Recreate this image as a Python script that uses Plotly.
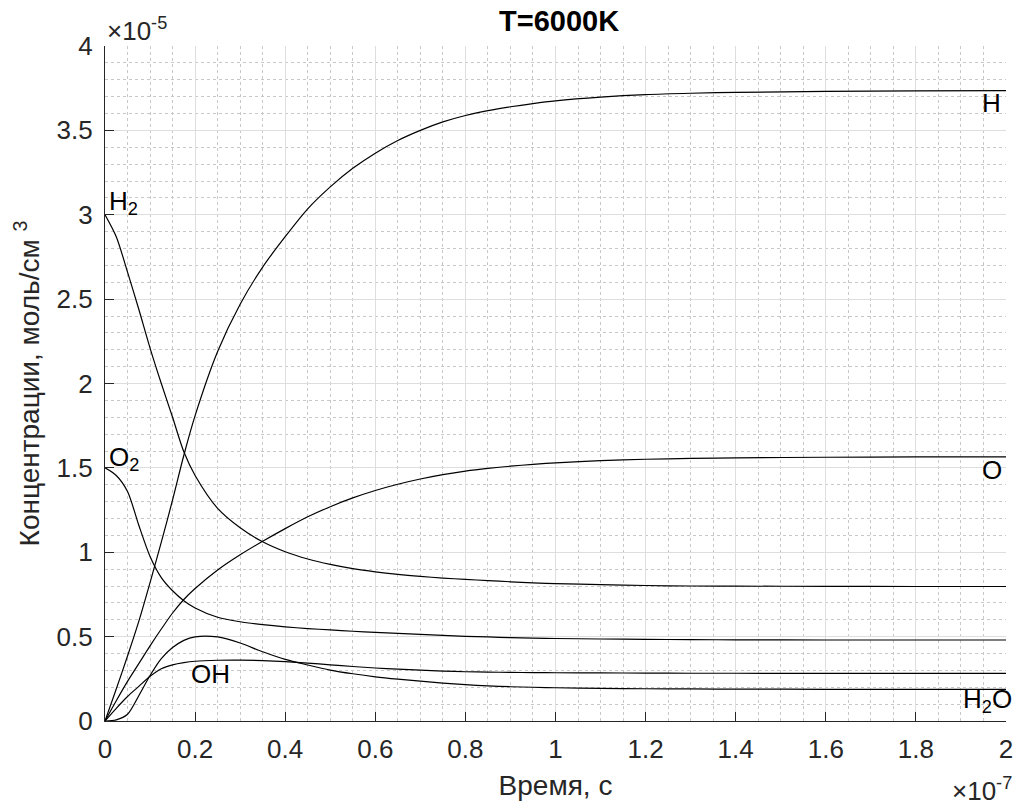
import plotly.graph_objects as go

# time in units of 1e-7 s, concentrations in units of 1e-5 mol/cm^3
t = [0, 0.025, 0.05, 0.075, 0.1, 0.125, 0.15, 0.175, 0.2,
     0.25, 0.3, 0.35, 0.4, 0.45, 0.5, 0.55, 0.6, 0.65, 0.7, 0.75, 0.8, 0.85, 0.9, 0.95, 1.0,
     1.1, 1.2, 1.3, 1.4, 1.6, 1.8, 2.0]

c_H = [0, 0.19, 0.385, 0.59, 0.82, 1.06, 1.31, 1.575, 1.81,
       2.19, 2.47, 2.69, 2.87, 3.035, 3.165, 3.275, 3.365, 3.44, 3.50, 3.55, 3.588, 3.617, 3.64, 3.659, 3.675,
       3.697, 3.712, 3.72, 3.725, 3.731, 3.734, 3.735]
c_H2 = [3.0, 2.87, 2.66, 2.44, 2.21, 2.0, 1.80, 1.595, 1.455,
        1.26, 1.145, 1.062, 1.003, 0.96, 0.928, 0.903, 0.884, 0.869, 0.857, 0.847, 0.839, 0.832, 0.825, 0.819, 0.814,
        0.808, 0.803, 0.80, 0.799, 0.798, 0.797, 0.797]
c_O = [0, 0.12, 0.235, 0.34, 0.445, 0.545, 0.64, 0.72, 0.785,
       0.895, 0.985, 1.065, 1.14, 1.21, 1.27, 1.322, 1.366, 1.403, 1.434, 1.46, 1.481, 1.497, 1.51, 1.521, 1.53,
       1.543, 1.551, 1.556, 1.559, 1.563, 1.565, 1.565]
c_O2 = [1.5, 1.455, 1.36, 1.16, 0.975, 0.85, 0.772, 0.713, 0.67,
        0.615, 0.588, 0.571, 0.558, 0.548, 0.54, 0.532, 0.525, 0.519, 0.513, 0.507, 0.502, 0.498, 0.494, 0.491, 0.489,
        0.486, 0.484, 0.482, 0.481, 0.48, 0.48, 0.48]
c_H2O = [0, 0.007, 0.04, 0.15, 0.27, 0.37, 0.435, 0.478, 0.499,
         0.498, 0.462, 0.41, 0.365, 0.332, 0.302, 0.28, 0.262, 0.248, 0.236, 0.225, 0.215, 0.208, 0.203, 0.20, 0.197,
         0.193, 0.191, 0.19, 0.189, 0.188, 0.188, 0.188]
c_OH = [0, 0.075, 0.145, 0.205, 0.265, 0.31, 0.333, 0.346, 0.354,
        0.36, 0.361, 0.358, 0.352, 0.343, 0.333, 0.323, 0.314, 0.307, 0.301, 0.296, 0.292, 0.29, 0.288, 0.287, 0.286,
        0.285, 0.284, 0.283, 0.283, 0.282, 0.282, 0.282]

x_ticks = [0, 0.2, 0.4, 0.6, 0.8, 1.0, 1.2, 1.4, 1.6, 1.8, 2.0]
x_tick_labels = ["0", "0.2", "0.4", "0.6", "0.8", "1", "1.2", "1.4", "1.6", "1.8", "2"]
y_ticks = [0, 0.5, 1.0, 1.5, 2.0, 2.5, 3.0, 3.5, 4.0]
y_tick_labels = ["0", "0.5", "1", "1.5", "2", "2.5", "3", "3.5", "4"]

series = [("H", c_H), ("H2", c_H2), ("O", c_O), ("O2", c_O2), ("H2O", c_H2O), ("OH", c_OH)]

FONT = "Liberation Sans, Arial, Helvetica, sans-serif"
TXT = "#262626"

fig = go.Figure()
for name, c in series:
    fig.add_trace(go.Scatter(x=t, y=c, mode="lines", name=name,
                             line=dict(color="black", width=1.2, shape="spline", smoothing=0.8),
                             showlegend=False, hoverinfo="skip"))

labels = [
    ("H", 1.943, 3.662, "left", 0),
    ("O", 1.943, 1.485, "left", 0),
    ("H<sub>2</sub>O", 2.0, 0.12, "right", 8),
    ("H<sub>2</sub>", 0.004, 3.075, "left", 0),
    ("O<sub>2</sub>", 0.004, 1.555, "left", 0),
    ("OH", 0.187, 0.278, "left", 0),
]
annotations = []
for txt, x, y, xa, xs in labels:
    annotations.append(dict(text=txt, x=x, y=y, xref="x", yref="y", xanchor=xa, yanchor="middle",
                            xshift=xs, showarrow=False, font=dict(family=FONT, size=26, color="black")))

annotations.append(dict(text="×10<sup>-5</sup>", x=0, y=1, xref="paper", yref="paper",
                        xanchor="left", yanchor="bottom", xshift=0, yshift=-2, showarrow=False,
                        font=dict(family=FONT, size=26, color=TXT)))
annotations.append(dict(text="×10<sup>-7</sup>", x=1, y=0, xref="paper", yref="paper",
                        xanchor="right", yanchor="top", xshift=8, yshift=-50, showarrow=False,
                        font=dict(family=FONT, size=26, color=TXT)))

axis_common = dict(showline=True, linecolor=TXT, linewidth=1.2, mirror=False,
                   ticks="inside", ticklen=9, tickwidth=1.2, tickcolor=TXT,
                   showgrid=True, gridcolor="#dedede", gridwidth=1, zeroline=False,
                   tickfont=dict(family=FONT, size=26, color=TXT))

fig.update_layout(
    width=1023, height=810,
    margin=dict(l=105, r=10, t=46, b=89),
    plot_bgcolor="white", paper_bgcolor="white",
    title=dict(text="<b>T=6000K</b>", x=0.5465, xanchor="center", y=0.974, yanchor="middle",
               font=dict(family=FONT, size=29, color="black")),
    xaxis=dict(range=[0, 2], tickvals=x_ticks, ticktext=x_tick_labels,
               minor=dict(dtick=0.05, showgrid=True, gridcolor="#c8c8c8", griddash="dot", gridwidth=1, ticks=""),
               title=dict(text="Время, с", font=dict(family=FONT, size=28, color=TXT), standoff=12),
               ticklabelstandoff=5,
               **axis_common),
    yaxis=dict(range=[0, 4], tickvals=y_ticks, ticktext=y_tick_labels,
               minor=dict(dtick=0.1, showgrid=True, gridcolor="#c8c8c8", griddash="dot", gridwidth=1, ticks=""),
               title=dict(text="Концентрации, моль/см <sup>3</sup>", font=dict(family=FONT, size=28, color=TXT), standoff=8),
               ticklabelstandoff=6,
               **axis_common),
    annotations=annotations,
)

fig.write_html("out.html")
